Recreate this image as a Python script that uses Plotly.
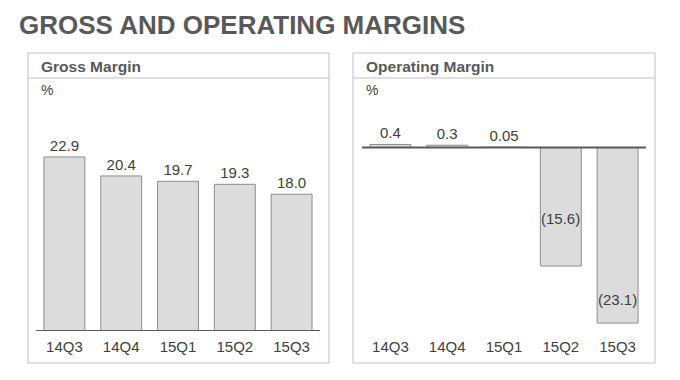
import plotly.graph_objects as go

W, H = 672, 372      # page body adds an 8px margin
OFF = 8

title_text = "GROSS AND OPERATING MARGINS"
panel_titles = ["Gross Margin", "Operating Margin"]
unit_label = "%"

quarters = ["14Q3", "14Q4", "15Q1", "15Q2", "15Q3"]
gross_margin = [22.9, 20.4, 19.7, 19.3, 18.0]
gross_labels = ["22.9", "20.4", "19.7", "19.3", "18.0"]
operating_margin = [0.4, 0.3, 0.05, -15.6, -23.1]
operating_labels = ["0.4", "0.3", "0.05", "(15.6)", "(23.1)"]

TXT = "#404040"
HEAD = "#595959"
BAR_FILL = "#dcdcdc"
BAR_LINE = "#8c8c8c"
BOX = "#c0c0c0"
FONT = "Liberation Sans, Arial, sans-serif"


def px(x):
    return (x - OFF) / W


def py(y):
    return 1 - (y - OFF) / H


fig = go.Figure()

fig.add_trace(go.Bar(
    x=quarters, y=gross_margin, text=gross_labels, textposition="outside",
    textfont=dict(size=15, color=TXT, family=FONT), cliponaxis=False,
    marker=dict(color=BAR_FILL, line=dict(color=BAR_LINE, width=1)),
    xaxis="x", yaxis="y", hoverinfo="skip",
))

op_text = [t if v > 0 else "" for t, v in zip(operating_labels, operating_margin)]
fig.add_trace(go.Bar(
    x=quarters, y=operating_margin, text=op_text, textposition="outside",
    textfont=dict(size=15, color=TXT, family=FONT), cliponaxis=False,
    marker=dict(color=BAR_FILL, line=dict(color=BAR_LINE, width=1)),
    xaxis="x2", yaxis="y2", hoverinfo="skip",
))

neg_shift = {"15Q2": 48, "15Q3": 24}
annotations = []
for q, v, t in zip(quarters, operating_margin, operating_labels):
    if v < 0:
        annotations.append(dict(
            x=q, y=v, xref="x2", yref="y2", text=t, showarrow=False,
            yshift=neg_shift.get(q, 20),
            font=dict(size=15, color=TXT, family=FONT),
        ))

annotations.append(dict(
    x=px(17), y=py(25), xref="paper", yref="paper", text="<b>%s</b>" % title_text,
    showarrow=False, xanchor="left", yanchor="middle",
    font=dict(size=26, color=HEAD, family=FONT),
))
for x0, t in [(39, panel_titles[0]), (364, panel_titles[1])]:
    annotations.append(dict(
        x=px(x0), y=py(67), xref="paper", yref="paper", text="<b>%s</b>" % t,
        showarrow=False, xanchor="left", yanchor="middle",
        font=dict(size=15.5, color=HEAD, family=FONT),
    ))
    annotations.append(dict(
        x=px(x0), y=py(90), xref="paper", yref="paper", text=unit_label,
        showarrow=False, xanchor="left", yanchor="middle",
        font=dict(size=14, color=TXT, family=FONT),
    ))

shapes = []
for (l, r) in [(28, 329), (353, 655)]:
    shapes.append(dict(type="rect", xref="paper", yref="paper",
                       x0=px(l), x1=px(r), y0=py(363), y1=py(53),
                       line=dict(color=BOX, width=1)))
    shapes.append(dict(type="line", xref="paper", yref="paper",
                       x0=px(l), x1=px(r), y0=py(78), y1=py(78),
                       line=dict(color=BOX, width=1)))
for xr, yr in [("x domain", "y"), ("x2 domain", "y2")]:
    shapes.append(dict(type="line", xref=xr, yref=yr, x0=0, x1=1, y0=0, y1=0,
                       line=dict(color=HEAD, width=2), layer="above"))

top_px, bot_px = 100, 331
zero2 = 147.5
scale = 7.6
axis_common = dict(showgrid=False, zeroline=False, showline=False, ticks="",
                   ticklabelstandoff=5,
                   tickfont=dict(size=15, color=TXT, family=FONT), fixedrange=True)

fig.update_layout(
    width=W, height=H, margin=dict(l=0, r=0, t=0, b=0),
    paper_bgcolor="white", plot_bgcolor="white", showlegend=False,
    bargap=0.28,
    xaxis=dict(domain=[px(36), px(320)], anchor="y", **axis_common),
    yaxis=dict(domain=[py(bot_px), py(top_px)], range=[0, (bot_px - top_px) / scale],
               visible=False),
    xaxis2=dict(domain=[px(362), px(646)], anchor="y2", **axis_common),
    yaxis2=dict(domain=[py(bot_px), py(top_px)],
                range=[-(bot_px - zero2) / scale, (zero2 - top_px) / scale], visible=False),
    annotations=annotations, shapes=shapes,
    font=dict(family=FONT),
)

fig.write_html("out.html")
